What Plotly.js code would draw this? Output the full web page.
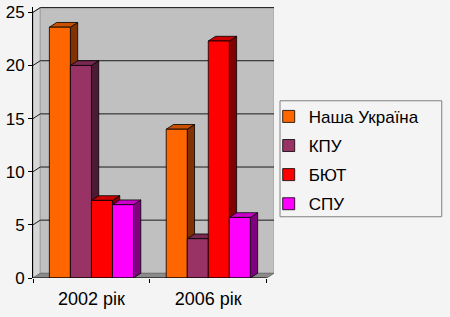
<!DOCTYPE html>
<html><head><meta charset="utf-8">
<script src="https://cdn.plot.ly/plotly-3.0.1.min.js"></script>
<style>html,body{margin:0;padding:0;background:#f4f4f4;}</style>
</head><body><div id="chart" style="width:450px;height:317px;"></div>
<script>
// ---- data ----
const categories = ['2002 рік', '2006 рік'];
const seriesNames = ['Наша Україна', 'КПУ', 'БЮТ', 'СПУ'];
const nashaUkraina = [23.6, 14.0];
const kpu = [20.0, 3.7];
const byut = [7.3, 22.3];
const spu = [6.9, 5.7];
const yTicks = [0, 5, 10, 15, 20, 25];

// ---- styling ----
const seriesValues = [nashaUkraina, kpu, byut, spu];
const frontColors = ['#ff6600', '#993366', '#ff0000', '#ff00ff'];
const topColors = ['#c85000', '#7a2952', '#cc0000', '#cc00cc'];
const sideColors = ['#803300', '#4d1a33', '#800000', '#800080'];
const FONT = 'Liberation Sans, Arial, sans-serif';

const catIdx = categories.map((c, i) => i);
const nS = seriesValues.length;
const barW = 0.18;
const groupW = barW * nS;
const DX = 0.0624, DY = 0.443;
const yTop = yTicks[yTicks.length - 1];
const X_MIN = -0.5, X_MAX = categories.length - 0.5 + DX, Y_MAX = yTop + 0.5;

const shapes = [];
// side wall
shapes.push({type: 'path', layer: 'below', xref: 'x', yref: 'y',
  path: `M${X_MIN},0 L${X_MIN + DX},${DY} L${X_MIN + DX},${yTop + DY} L${X_MIN},${yTop} Z`,
  fillcolor: '#d6d6d6', line: {color: '#9a9a9a', width: 1}});
// back wall
shapes.push({type: 'rect', layer: 'below', xref: 'x', yref: 'y',
  x0: X_MIN + DX, x1: X_MAX, y0: DY, y1: yTop + DY,
  fillcolor: '#c0c0c0', line: {color: '#a0a0a0', width: 1}});
// floor
shapes.push({type: 'path', layer: 'below', xref: 'x', yref: 'y',
  path: `M${X_MIN},0 L${X_MAX - DX},0 L${X_MAX},${DY} L${X_MIN + DX},${DY} Z`,
  fillcolor: '#8a8a8a', line: {color: '#707070', width: 1}});
// gridlines
yTicks.filter(v => v > 0).forEach(v => {
  shapes.push({type: 'line', layer: 'below', xref: 'x', yref: 'y',
    x0: X_MIN + DX, x1: X_MAX, y0: v + DY, y1: v + DY, line: {color: '#1a1a1a', width: 1}});
  shapes.push({type: 'line', layer: 'below', xref: 'x', yref: 'y',
    x0: X_MIN, x1: X_MIN + DX, y0: v, y1: v + DY, line: {color: '#1a1a1a', width: 1}});
});
// 3D faces of bars
catIdx.forEach(i => {
  seriesValues.forEach((vals, s) => {
    const v = vals[i];
    const x0 = i - groupW / 2 + s * barW, x1 = x0 + barW;
    shapes.push({type: 'path', layer: 'below', xref: 'x', yref: 'y',
      path: `M${x1},0 L${x1 + DX},${DY} L${x1 + DX},${v + DY} L${x1},${v} Z`,
      fillcolor: sideColors[s], line: {color: '#000', width: 0.8}});
    shapes.push({type: 'path', layer: 'below', xref: 'x', yref: 'y',
      path: `M${x0},${v} L${x1},${v} L${x1 + DX},${v + DY} L${x0 + DX},${v + DY} Z`,
      fillcolor: topColors[s], line: {color: '#000', width: 0.8}});
  });
});
// x axis line
shapes.push({type: 'line', layer: 'above', xref: 'x', yref: 'y',
  x0: X_MIN, x1: X_MAX - DX, y0: 0, y1: 0, line: {color: '#000', width: 1}});
// legend box
shapes.push({type: 'rect', xref: 'paper', yref: 'paper',
  x0: 1.025, x1: 1.696, y0: 0.226, y1: 0.654,
  fillcolor: 'rgba(0,0,0,0)', line: {color: '#808080', width: 1}});

const traces = seriesValues.map((vals, s) => ({
  type: 'bar', x: catIdx, y: vals, name: seriesNames[s],
  width: barW, offset: -groupW / 2 + s * barW,
  legendgroup: 'g' + s,
  marker: {color: frontColors[s], line: {color: '#000', width: 0.8}},
  hoverinfo: 'none'
}));

const boundaries = catIdx.map(i => i - 0.5).concat([categories.length - 0.5]);

const layout = {
  width: 450, height: 317,
  margin: {l: 33, r: 176, t: 7, b: 39},
  paper_bgcolor: '#f4f4f4', plot_bgcolor: 'rgba(0,0,0,0)',
  barmode: 'overlay',
  showlegend: true,
  xaxis: {range: [X_MIN, X_MAX], tickmode: 'array', tickvals: catIdx, ticktext: categories,
    ticks: '', showgrid: false, zeroline: false, showline: false, ticklabelstandoff: 8,
    tickfont: {family: FONT, size: 18, color: '#000'},
    minor: {tickmode: 'array', tickvals: boundaries, ticks: 'outside', ticklen: 4, tickcolor: '#000', showgrid: false},
    fixedrange: true},
  yaxis: {range: [0, Y_MAX], tickmode: 'array', tickvals: yTicks,
    ticks: 'outside', ticklen: 4, tickcolor: '#000', showline: true, linecolor: '#000', linewidth: 1,
    showgrid: false, zeroline: false,
    tickfont: {family: FONT, size: 17, color: '#000'}, fixedrange: true},
  legend: {x: 0.978, y: 0.661, xanchor: 'left', yanchor: 'top',
    bgcolor: 'rgba(0,0,0,0)', borderwidth: 0, tracegroupgap: 4,
    font: {family: FONT, size: 17, color: '#000'}},
  shapes: shapes
};

Plotly.newPlot('chart', traces, layout, {displayModeBar: false, staticPlot: true});
</script></body></html>
